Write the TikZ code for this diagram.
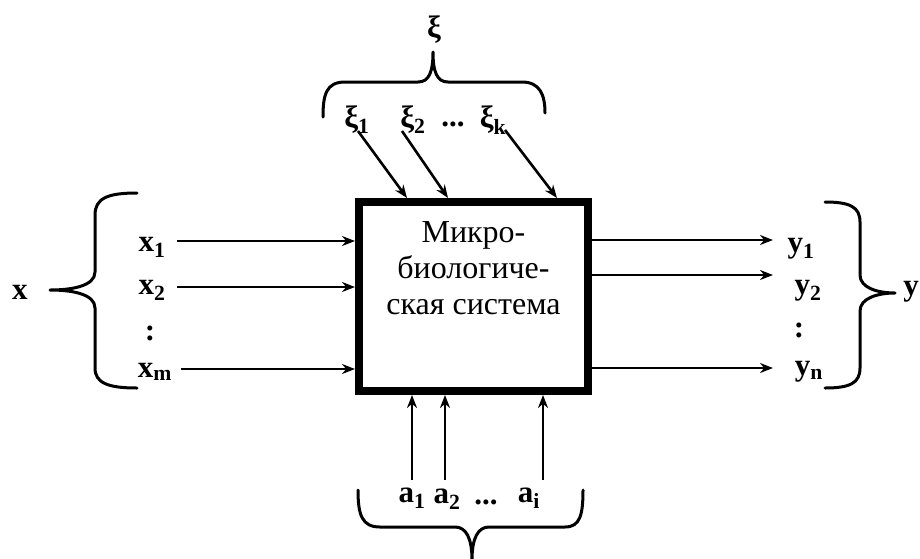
\documentclass[tikz,border=0pt]{standalone}
\usepackage{fontspec}
\setmainfont{Liberation Serif}
\usetikzlibrary{arrows.meta}
\begin{document}
\begin{tikzpicture}[x=1pt,y=-1pt,
  >={Stealth[length=13pt,width=10pt]},
  conn/.style={->, line width=2.6pt},
  lbl/.style={font=\fontsize{31}{33}\selectfont\bfseries, inner sep=0pt},
  brace/.style={line width=3pt, line cap=round, line join=round}]
\useasboundingbox (0,0) rectangle (920,558);
% system box
\node[draw, line width=8pt, minimum width=229pt, minimum height=189pt, inner sep=0pt] (box) at (473.5,296.5) {};
\node[font=\fontsize{32}{36}\selectfont, align=center, anchor=north, inner sep=0pt] (txt) at (473.5,221) {Микро-\\биологиче-\\ская система};
% inputs x
\node[lbl] (x1) at (152,247) {x\textsubscript{1}};
\node[lbl] (x2) at (152,290) {x\textsubscript{2}};
\node[lbl] (xd) at (150,333) {:};
\node[lbl] (xm) at (155,372) {x\textsubscript{m}};
\coordinate (x1s) at (177,241);
\coordinate (x2s) at (177,287);
\coordinate (xms) at (181,369);
\draw[conn] (x1s) -- (x1s -| box.west);
\draw[conn] (x2s) -- (x2s -| box.west);
\draw[conn] (xms) -- (xms -| box.west);
\draw[brace] (137,193) .. controls (108,193) and (95,198) .. (95,215) -- (95,272)
  .. controls (95,286) and (72,290) .. (50,290)
  .. controls (72,290) and (95,294) .. (95,308) -- (95,368)
  .. controls (95,383) and (108,388) .. (137,388);
\node[lbl] (x) at (20,292) {x};
% outputs y
\coordinate (y1e) at (773,240);
\coordinate (y2e) at (773,275);
\coordinate (yne) at (773,368);
\draw[conn] (box.east |- y1e) -- (y1e);
\draw[conn] (box.east |- y2e) -- (y2e);
\draw[conn] (box.east |- yne) -- (yne);
\node[lbl] (y1) at (801,249) {y\textsubscript{1}};
\node[lbl] (y2) at (808,291) {y\textsubscript{2}};
\node[lbl] (yd) at (799,330) {:};
\node[lbl] (yn) at (809,372) {y\textsubscript{n}};
\draw[brace] (825,202) .. controls (850,202) and (860,207) .. (860,222) -- (860,275)
  .. controls (860,288) and (878,293) .. (895,293)
  .. controls (878,293) and (860,298) .. (860,311) -- (860,368)
  .. controls (860,383) and (850,388) .. (825,388);
\node[lbl] (y) at (911,292) {y};
% disturbances xi
\node[lbl] (xi1) at (357,120) {ξ\textsubscript{1}};
\node[lbl] (xi2) at (413,120) {ξ\textsubscript{2}};
\node[lbl] (xid) at (453,124) {...};
\node[lbl] (xik) at (493,120) {ξ\textsubscript{k}};
\coordinate (xi1s) at (358,131);
\coordinate (xi2s) at (402,131);
\coordinate (xiks) at (505,130);
\coordinate (t1) at (407,0);
\coordinate (t2) at (448,0);
\coordinate (tk) at (557,0);
\draw[conn] (xi1s) -- (t1 |- box.north);
\draw[conn] (xi2s) -- (t2 |- box.north);
\draw[conn] (xiks) -- (tk |- box.north);
\draw[brace] (323,117) .. controls (323,95) and (326,82) .. (345,82) -- (418,82)
  .. controls (429,82) and (433,72) .. (433,52)
  .. controls (433,72) and (437,82) .. (448,82) -- (522,82)
  .. controls (540,82) and (545,95) .. (545,113);
\node[lbl] (xi) at (434,30) {ξ};
% controls a
\coordinate (a1s) at (412,480);
\coordinate (a2s) at (445,480);
\coordinate (ais) at (543,480);
\draw[conn] (a1s) -- (a1s |- box.south);
\draw[conn] (a2s) -- (a2s |- box.south);
\draw[conn] (ais) -- (ais |- box.south);
\node[lbl] (a1) at (412,498) {a\textsubscript{1}};
\node[lbl] (a2) at (447,499) {a\textsubscript{2}};
\node[lbl] (ad) at (486,502) {...};
\node[lbl] (ai) at (529,498) {a\textsubscript{i}};
\draw[brace] (358,490) .. controls (358,515) and (362,527) .. (380,527) -- (455,527)
  .. controls (466,527) and (472,538) .. (472,560)
  .. controls (472,538) and (478,527) .. (489,527) -- (565,527)
  .. controls (580,527) and (583,515) .. (583,490);
\end{tikzpicture}
\end{document}
